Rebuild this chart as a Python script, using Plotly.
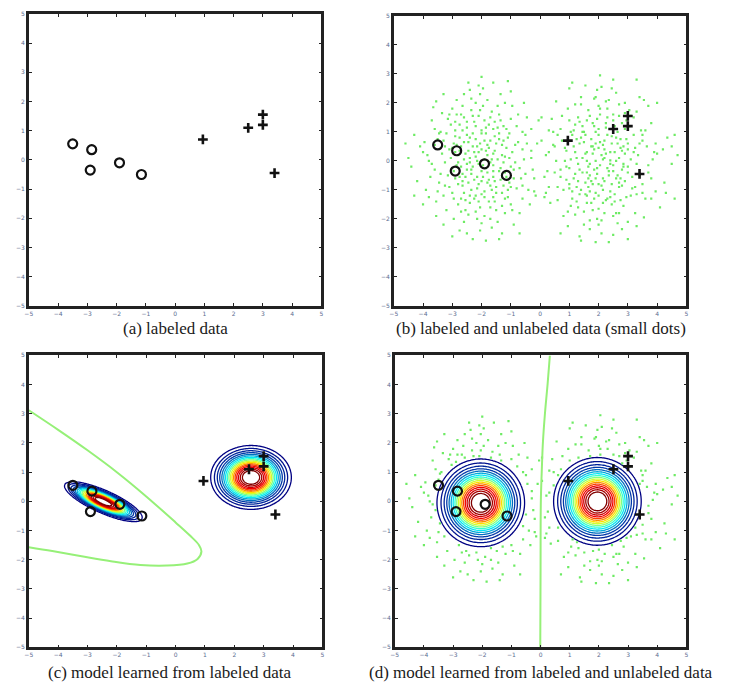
import numpy as np
import plotly.graph_objects as go

W, H = 730, 687

# labeled data
circ_x = [-3.5, -2.85, -2.9, -1.9, -1.15]
circ_y = [0.55, 0.35, -0.35, -0.1, -0.5]
plus_x = [0.95, 2.5, 3.0, 3.0, 3.4]
plus_y = [0.7, 1.1, 1.55, 1.2, -0.45]

# unlabeled data
unl_left = [
(-2.1,0.3),(-1.8,-0.4),(-2.5,0.9),(-1.3,0.2),(-2.9,-0.6),(-1.6,1.1),(-2.2,-1.2),(-3.1,0.4),(-0.9,-0.3),(-2.4,0.1),
(-1.9,0.7),(-2.7,-0.2),(-1.5,-0.9),(-3.4,1.0),(-2.0,-0.7),(-1.1,0.8),(-2.6,1.5),(-1.7,-1.6),(-3.0,-1.1),(-2.3,0.5),
(-0.6,0.4),(-1.4,1.6),(-2.8,0.2),(-3.6,-0.3),(-2.1,-0.1),(-1.2,-1.3),(-1.95,1.9),(-2.55,-1.7),(-3.3,0.7),(-0.8,1.2),
(-1.65,0.05),(-2.35,-0.45),(-2.75,1.25),(-1.05,-0.75),(-3.85,0.2),(-2.05,2.3),(-1.45,-2.1),(-2.95,-2.0),(-0.4,-1.0),(-2.45,2.7),
(-1.75,0.45),(-2.15,-0.95),(-3.15,1.45),(-1.25,-0.05),(-2.65,-0.85),(-1.85,-0.25),(-3.55,-1.4),(-0.7,-1.8),(-2.25,1.35),(-1.55,0.85),
(-4.1,0.5),(-2.85,2.1),(-1.35,2.3),(-2.05,-2.4),(-0.95,1.9),(-3.25,-0.05),(-1.6,-0.55),(-2.4,-1.45),(-1.15,0.45),(-2.9,0.85),
(-3.7,1.4),(-0.3,0.1),(-2.2,0.75),(-1.9,-1.9),(-2.6,-1.1),(-1.0,-1.5),(-3.45,-0.75),(-2.0,1.05),(-1.4,-0.35),(-2.7,0.5),
(-0.5,0.9),(-3.0,1.8),(-1.7,1.5),(-2.3,-2.7),(-4.4,-0.2),(-1.25,1.2),(-2.15,0.0),(-2.8,-1.5),(-1.8,0.2),(-3.2,-1.7),
(-0.85,-0.05),(-2.5,-0.3),(-1.6,2.7),(-3.9,-1.0),(-1.3,-2.5),(-2.35,1.75),(-2.0,-0.35),(-1.1,-1.0),(-2.95,-0.35),(-1.5,0.6),
(-3.3,2.3),(-0.2,-0.6),(-2.6,0.65),(-1.9,-1.25),(-2.25,-0.65),(-1.45,1.9),(-3.6,0.55),(-0.6,-1.3),(-2.75,-2.4),(-1.7,-0.85),
(-2.45,0.35),(-1.2,0.15),(-3.05,0.1),(-2.1,1.55),(-0.75,0.65),(-4.0,-1.5),(-1.55,-1.4),(-2.65,1.9),(-1.85,0.95),(-2.35,-1.0),
(-3.45,0.95),(-1.0,2.4),(-2.05,-1.6),(-1.35,-0.65),(-2.9,1.35),(-0.45,1.5),(-2.2,2.0),(-1.65,-2.3),(-3.75,-0.55),(-2.55,-0.55),
(-1.75,1.25),(-0.9,-2.2),(-2.4,2.45),(-3.1,-0.9),(-1.3,0.55),(-2.0,0.4),(-2.8,-0.05),(-1.5,-1.1),(-0.1,0.6),(-3.35,1.65),
(-2.15,-2.0),(-1.05,0.95),(-2.7,-1.3),(-1.9,1.4),(-4.3,0.9),(-1.6,-0.15),(-2.5,1.15),(-0.65,-0.6),(-3.55,-1.9),(-2.3,-0.2),
(-1.2,-1.8),(-2.95,0.6),(-1.8,2.1),(-2.6,-2.1),(-0.35,-1.5),(-3.8,0.0),(-1.4,0.95),(-2.1,-1.4),(-1.0,-0.2),(-2.85,1.6),
(-4.2,-0.7),(-1.65,-1.0),(-2.4,0.8),(-0.55,2.0),(-3.0,-2.6),(-1.95,-0.55),(-2.75,0.35),(-1.15,-0.55),(-3.25,0.5),(-1.55,1.35),
(-2.0,2.9),(-0.8,-0.95),(-2.45,-1.85),(-1.7,0.7),(-3.65,1.85),(-1.3,-1.1),(-2.2,1.2),(-0.95,0.3),(-2.65,-0.7),(-1.85,-2.75),
(-2.2,0.15),(-1.95,-0.15),(-2.55,0.25),(-1.55,0.35),(-2.35,-0.3),(-1.75,-0.65),(-2.85,0.55),(-2.05,0.6),(-1.35,-0.25),(-2.65,-0.45),
(-2.0,0.95),(-1.45,0.05),(-3.0,-0.25),(-2.45,-0.75),(-1.85,1.15),(-1.05,0.1),(-2.75,0.8),(-1.6,-1.25),(-3.35,0.25),(-2.15,-0.55),
(-0.85,0.55),(-2.5,1.35),(-1.7,-0.05),(-3.15,-0.5),(-2.3,0.95),(-1.25,-0.85),(-2.9,1.05),(-1.9,-1.05),(-3.5,0.75),(-1.15,1.1),
(-2.6,0.05),(-1.8,0.55),(-2.1,-0.8),(-3.05,1.25),(-1.4,0.75),(-2.4,-1.2),(-0.7,-0.25),(-2.8,-0.8),(-1.65,1.7),(-3.7,-0.1),
(-1.2,-0.4),(-2.25,0.3),(-2.95,-1.3),(-1.5,-1.7),(-3.3,-1.2),(-0.55,0.05),(-2.05,1.75),(-2.7,-1.75),(-1.0,1.45),(-3.95,0.65),
(-1.3,-1.55),(-2.5,-0.1),(-1.85,0.35),(-2.35,2.15),(-3.2,0.95),(-0.9,-0.6),(-2.0,-1.15),(-1.6,0.25),(-2.85,-0.15),(-1.1,-1.25),
(-3.4,-0.45),(-2.15,0.5),(-1.75,-1.4),(-2.65,1.05),(-0.6,-0.85),(-4.0,0.3),(-1.45,1.15),(-2.4,-0.05),(-3.1,1.6),(-1.95,2.5),
(-2.55,-1.35),(-1.25,0.7),(-0.75,1.6),(-3.6,1.1),(-1.55,-0.7),(-2.2,-1.75),(-2.9,0.3),(-1.35,1.4),(-0.25,-0.3),(-3.25,-0.85),
(-1.9,0.05),(-2.45,0.65),(-1.7,-2.0),(-2.75,-0.55),(-4.5,0.1),(-1.0,-0.9),(-2.1,2.6),(-3.5,-1.05),(-0.45,0.6),(-2.3,1.55),
(-1.6,-0.35),(-3.0,0.45),(-2.0,-2.15),(-1.2,2.0),(-2.6,2.3),(-3.8,-1.25),(-0.95,-1.7),(-2.25,-1.3),(-1.8,-0.75),(-2.7,1.6),
(-4.6,0.6),(-0.3,1.1),(-3.3,-2.2),(-1.4,-2.7),(-2.5,-2.5),(-0.15,-1.2),(-4.3,-1.2),(-1.1,2.75),(-3.55,2.05),(-0.7,-2.5),
(0.3,0.3),(0.5,-0.4),(0.2,-1.1),(-0.05,1.4),(0.6,0.9),
]
unl_right = [
(2.1,0.2),(1.7,-0.5),(2.6,0.8),(1.2,0.3),(2.9,-0.7),(1.5,1.0),(2.3,-1.3),(3.2,0.3),(0.9,-0.2),(2.4,-0.1),
(1.9,0.6),(2.8,-0.3),(1.4,-1.0),(3.5,0.9),(2.0,-0.8),(1.1,0.9),(2.5,1.6),(1.8,-1.7),(3.1,-1.2),(2.2,0.4),
(0.5,0.5),(1.3,1.5),(2.7,0.1),(3.7,-0.4),(2.05,-0.15),(1.25,-1.4),(2.0,1.9),(2.6,-1.8),(3.4,0.6),(0.7,1.1),
(1.6,0.0),(2.35,-0.5),(2.8,1.3),(1.0,-0.8),(3.9,0.3),(1.9,2.2),(1.5,-2.2),(3.0,-2.1),(0.3,-0.9),(2.5,2.8),
(1.75,0.5),(2.15,-1.0),(3.2,1.5),(1.3,-0.1),(2.7,-0.9),(1.85,-0.3),(3.6,-1.3),(0.8,-1.9),(2.25,1.3),(1.55,0.9),
(4.2,0.4),(2.9,2.0),(1.4,2.2),(2.1,-2.5),(0.95,1.8),(3.3,-0.1),(1.65,-0.6),(2.45,-1.5),(1.15,0.5),(2.95,0.75),
(3.8,1.3),(0.2,0.2),(2.2,0.7),(1.95,-2.0),(2.55,-1.15),(1.05,-1.55),(3.5,-0.8),(2.0,1.1),(1.45,-0.4),(2.75,0.45),
(0.45,1.0),(3.05,1.75),(1.7,1.55),(2.35,-2.8),(4.5,-0.1),(1.2,1.25),(2.15,0.05),(2.85,-1.55),(1.8,0.25),(3.25,-1.8),
(0.85,0.0),(2.5,-0.35),(1.55,2.6),(3.95,-1.05),(1.35,-2.6),(2.3,1.8),(1.95,-0.45),(1.1,-1.05),(3.0,-0.4),(1.5,0.65),
(3.4,2.2),(0.15,-0.55),(2.65,0.6),(1.85,-1.3),(2.2,-0.7),(1.4,1.95),(3.65,0.5),(0.6,-1.35),(2.8,-2.35),(1.65,-0.9),
(2.4,0.3),(1.25,0.1),(3.1,0.05),(2.05,1.6),(0.75,0.7),(4.1,-1.6),(1.6,-1.45),(2.7,1.95),(1.9,1.0),(2.4,-1.05),
(3.45,1.05),(1.0,2.5),(2.0,-1.65),(1.3,-0.7),(2.95,1.4),(0.4,1.45),(2.25,2.05),(1.7,-2.35),(3.8,-0.6),(2.6,-0.6),
(1.8,1.3),(0.95,-2.25),(2.45,2.5),(3.15,-0.95),(1.35,0.6),(2.0,0.45),(2.85,-0.1),(1.55,-1.15),(0.05,0.7),(3.3,1.7),
(2.1,-2.05),(1.05,1.0),(2.75,-1.35),(1.95,1.45),(4.35,0.8),(1.65,-0.2),(2.55,1.2),(0.7,-0.55),(3.55,-1.95),(2.3,-0.25),
(1.2,-1.85),(3.0,0.6),(1.85,2.15),(2.65,-2.15),(0.35,-1.45),(3.85,0.05),(1.45,1.0),(2.15,-1.45),(1.0,-0.25),(2.9,1.65),
(4.25,-0.75),(1.7,-1.05),(2.45,0.85),(0.55,2.05),(3.0,-2.7),(1.9,-0.6),(2.8,0.35),(1.15,-0.6),(3.25,0.45),(1.6,1.4),
(2.05,2.95),(0.8,-1.0),(2.5,-1.9),(1.75,0.75),(3.7,1.9),(1.35,-1.15),(2.25,1.15),(0.9,0.35),(2.7,-0.75),(1.9,-2.8),
(4.7,0.2),(4.0,2.0),(3.3,2.8),(4.6,-1.3),
(2.2,0.1),(1.95,-0.25),(2.55,0.3),(1.55,0.25),(2.35,-0.35),(1.75,-0.7),(2.85,0.5),(2.05,0.65),(1.35,-0.3),(2.65,-0.5),
(2.0,0.9),(1.45,0.1),(3.0,-0.2),(2.45,-0.8),(1.85,1.2),(1.05,0.05),(2.75,0.75),(1.6,-1.2),(3.35,0.2),(2.15,-0.6),
(0.85,0.45),(2.5,1.4),(1.7,-0.1),(3.15,-0.55),(2.3,0.9),(1.25,-0.9),(2.9,1.1),(1.9,-1.1),(3.5,0.7),(1.15,1.05),
(2.6,0.0),(1.8,0.5),(2.1,-0.85),(3.05,1.2),(1.4,0.8),(2.4,-1.25),(0.7,-0.3),(2.8,-0.85),(1.65,1.75),(3.7,-0.15),
(1.2,-0.45),(2.25,0.25),(2.95,-1.25),(1.5,-1.75),(3.3,-1.15),(0.55,0.0),(2.05,1.8),(2.7,-1.8),(1.0,1.4),(3.95,0.6),
(1.3,-1.6),(2.5,-0.15),(1.85,0.4),(2.35,2.1),(3.2,0.9),(0.9,-0.65),(2.0,-1.2),(1.6,0.3),(2.85,-0.2),(1.1,-1.3),
(3.4,-0.5),(2.15,0.55),(1.75,-1.45),(2.65,1.0),(0.6,-0.9),(4.0,0.25),(1.45,1.2),(2.4,0.02),(3.1,1.55),(1.95,2.45),
(2.55,-1.4),(1.25,0.75),(0.75,1.55),(3.6,1.05),(1.55,-0.75),(2.2,-1.8),(2.9,0.25),(1.35,1.35),(0.25,-0.35),(3.25,-0.9),
(1.9,0.0),(2.45,0.6),(1.7,-2.05),(2.75,-0.6),(4.5,0.5),(1.0,-0.95),(2.1,2.55),(3.5,-1.1),(0.45,0.55),(2.3,1.5),
(1.6,-0.4),(3.0,0.4),(2.0,-2.2),(1.2,1.95),(2.6,2.35),(3.8,-1.3),(0.95,-1.75),(2.25,-1.35),(1.8,-0.8),(2.7,1.55),
(4.6,0.9),(0.3,1.05),(3.3,-2.25),(1.4,-2.75),(2.5,-2.55),(0.15,-1.25),(4.3,-1.1),(1.1,2.7),(3.55,2.1),(0.7,-2.5),
(-0.3,0.35),(-0.5,-0.45),(-0.2,-1.05),(0.05,1.5),(-0.6,1.0),
]

tick_vals = [-5, -4, -3, -2, -1, 0, 1, 2, 3, 4, 5]
tick_text = ["\u22125", "\u22124", "\u22123", "\u22122", "\u22121", "0", "1", "2", "3", "4", "5"]

# Gaussian model parameters (mean, sigma_major, sigma_minor, angle deg)
c_means = [(-2.46, -0.01), (2.57, 0.82)]
c_sigmas = [(0.67, 0.18, -24.0), (0.64, 0.51, 0.0)]
d_means = [(-2.05, -0.05), (1.95, 0.0)]
d_sigmas = [(0.70, 0.70, 0.0), (0.70, 0.70, 0.0)]
levels = dict(start=0.1, end=0.9, size=0.05)

# decision boundaries
c_bound_x = [-5, -4, -3, -2, -1, 0, 0.5, 0.8, 0.88, 0.75, 0.4, -0.3, -1.2, -2.2, -3.2, -4.2, -5]
c_bound_y = [3.12, 2.45, 1.75, 1.0, 0.17, -0.72, -1.18, -1.5, -1.72, -1.97, -2.13, -2.2, -2.18, -2.05, -1.88, -1.7, -1.57]
d_bound_x = [0.32, 0.24, 0.15, 0.08, 0.04, 0.01, 0.0, -0.01]
d_bound_y = [5, 4, 3, 2, 1, 0, -2.5, -5]

captions = ["(a) labeled data", "(b) labeled and unlabeled data (small dots)",
            "(c) model learned from labeled data", "(d) model learned from labeled and unlabeled data"]

# panel pixel boxes: (left, top, right, bottom)
boxes = [(25, 10, 320, 305), (393, 12, 688, 305), (25, 355, 321, 650), (394, 355, 688, 650)]
cap_pos = [(173, 328), (541, 328), (167, 675), (541, 675)]

fig = go.Figure()
axnames = ["", "2", "3", "4"]

unl = np.array(unl_left + unl_right)
grid = np.linspace(-5, 5, 241)
GX, GY = np.meshgrid(grid, grid)

def gauss(mean, sig):
    a = np.deg2rad(sig[2])
    dx, dy = GX - mean[0], GY - mean[1]
    u = dx * np.cos(a) + dy * np.sin(a)
    v = -dx * np.sin(a) + dy * np.cos(a)
    return np.exp(-0.5 * ((u / sig[0]) ** 2 + (v / sig[1]) ** 2))

def add_contours(means, sigmas, ax):
    for m, s in zip(means, sigmas):
        fig.add_trace(go.Contour(x=grid, y=grid, z=gauss(m, s), contours=dict(coloring="lines", **levels),
                                 colorscale="Jet", zmin=levels["start"], zmax=levels["end"], showscale=False,
                                 line=dict(width=1.3), hoverinfo="skip", xaxis="x" + ax, yaxis="y" + ax))

def add_labeled(ax):
    fig.add_trace(go.Scatter(x=circ_x, y=circ_y, mode="markers", xaxis="x" + ax, yaxis="y" + ax,
                             marker=dict(symbol="circle-open", size=9, color="#111", line=dict(width=2.2))))
    fig.add_trace(go.Scatter(x=plus_x, y=plus_y, mode="markers", xaxis="x" + ax, yaxis="y" + ax,
                             marker=dict(symbol="cross-thin-open", size=7, color="#111", line=dict(width=2.6))))

dot_color = "rgb(110,235,100)"
# (a)
add_labeled("")
# (b)
fig.add_trace(go.Scatter(x=unl[:, 0], y=unl[:, 1], mode="markers", xaxis="x2", yaxis="y2",
                         marker=dict(symbol="square", size=2.2, color=dot_color)))
add_labeled("2")
# (c)
add_contours(c_means, c_sigmas, "3")
fig.add_trace(go.Scatter(x=c_bound_x, y=c_bound_y, mode="lines", line=dict(color="rgb(150,240,120)", width=2, shape="spline"),
                         xaxis="x3", yaxis="y3"))
add_labeled("3")
# (d)
mask = np.ones(len(unl), bool)
for m in d_means:
    mask &= np.hypot(unl[:, 0] - m[0], unl[:, 1] - m[1]) > 1.55
fig.add_trace(go.Scatter(x=unl[mask, 0], y=unl[mask, 1], mode="markers", xaxis="x4", yaxis="y4",
                         marker=dict(symbol="square", size=2.2, color=dot_color)))
add_contours(d_means, d_sigmas, "4")
fig.add_trace(go.Scatter(x=d_bound_x, y=d_bound_y, mode="lines", line=dict(color="rgb(150,240,120)", width=2, shape="spline"),
                         xaxis="x4", yaxis="y4"))
add_labeled("4")

axis_common = dict(range=[-5, 5], tickvals=tick_vals, ticktext=tick_text, ticks="inside", ticklen=3,
                   tickwidth=1, tickcolor="#222", showline=True, linecolor="#222", linewidth=2.6,
                   mirror="allticks", showgrid=False, zeroline=False,
                   tickfont=dict(size=6, color="#5a6c90", family="DejaVu Sans"))
layout = dict(width=W, height=H, margin=dict(l=0, r=0, t=0, b=0), paper_bgcolor="white",
              plot_bgcolor="white", showlegend=False)
for i, (ax, (l, t, r, b)) in enumerate(zip(axnames, boxes)):
    layout["xaxis" + ax] = dict(axis_common, domain=[l / W, r / W], anchor="y" + ax)
    layout["yaxis" + ax] = dict(axis_common, domain=[1 - b / H, 1 - t / H], anchor="x" + ax)
fig.update_layout(**layout)

for txt, (cx, cy) in zip(captions, cap_pos):
    fig.add_annotation(text=txt, x=cx / W, y=1 - cy / H, xref="paper", yref="paper", showarrow=False,
                       xanchor="center", yanchor="middle", borderpad=0,
                       font=dict(family="Liberation Serif", size=17, color="#1a1a1a"))

fig.write_html("out.html", config={"displayModeBar": False},
               post_script="document.body.style.margin='0';document.body.style.overflow='hidden';")
